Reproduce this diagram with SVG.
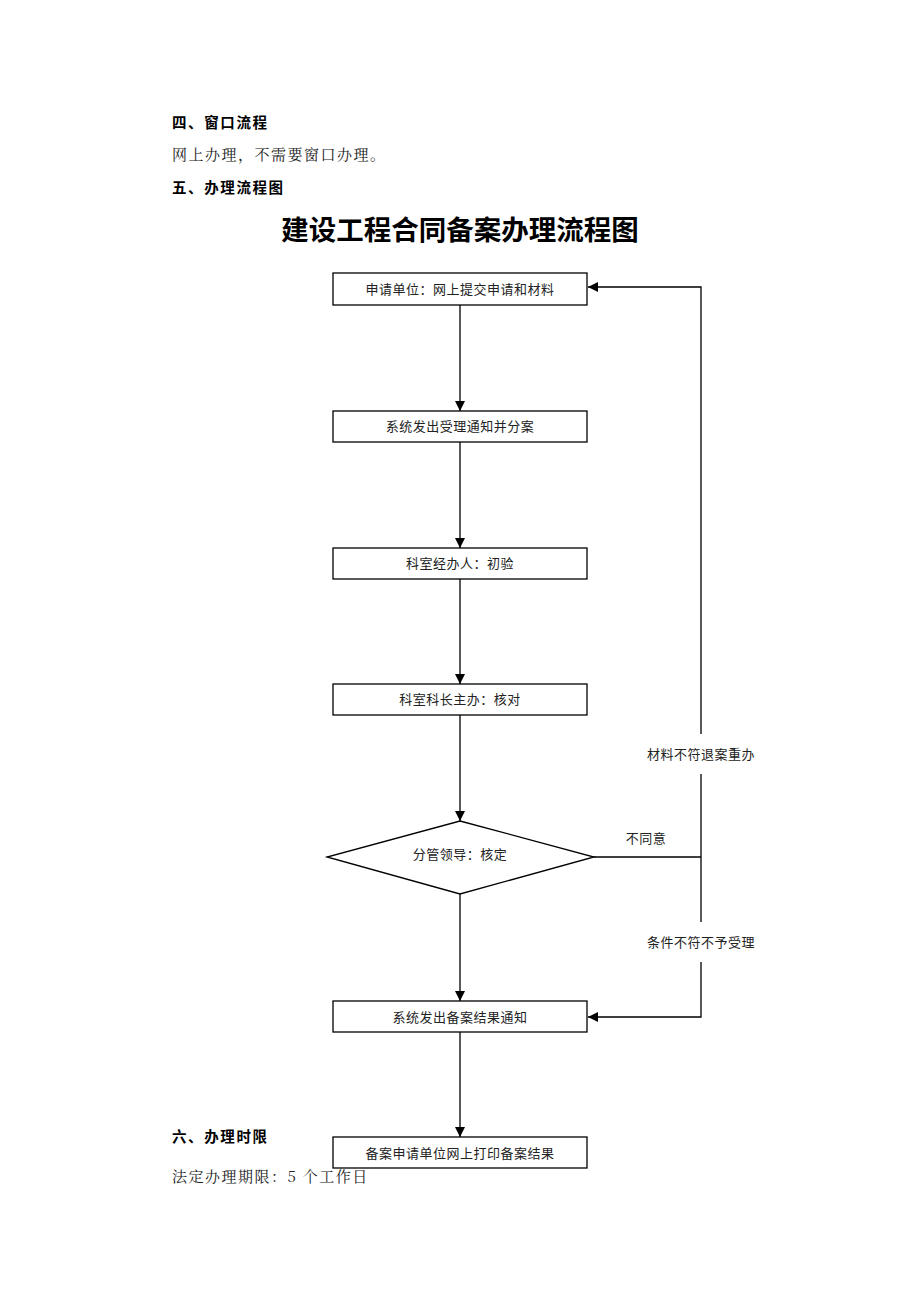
<svg xmlns="http://www.w3.org/2000/svg" width="920" height="1302" viewBox="0 0 920 1302">
<style>
.h{font-family:"Noto Sans CJK SC","Liberation Sans",sans-serif;font-size:14.5px;font-weight:bold;fill:#000;letter-spacing:1.6px}
.p{font-family:"Noto Serif CJK SC","Noto Sans CJK SC","Liberation Serif",serif;font-size:15px;fill:#222;letter-spacing:1.5px}
.t{font-family:"Noto Sans CJK SC","Liberation Sans",sans-serif;font-size:13px;fill:#222;text-anchor:middle;letter-spacing:0.5px}
.box{fill:#fff;stroke:#000;stroke-width:1.3}
.ln{fill:none;stroke:#000;stroke-width:1.3}
</style>
<defs>
<marker id="arr" viewBox="0 0 10 10" refX="10" refY="5" markerWidth="10" markerHeight="10" markerUnits="userSpaceOnUse" orient="auto">
<path d="M0,0 L10,5 L0,10 z" fill="#000"/>
</marker>
</defs>
<rect width="920" height="1302" fill="#fff"/>
<g id="text-header">
<text class="h" x="172" y="128">四、窗口流程</text>
<text class="p" x="172" y="160">网上办理，不需要窗口办理。</text>
<text class="h" x="172" y="193">五、办理流程图</text>
<text x="460" y="240" font-family="Noto Sans CJK SC, Liberation Sans, sans-serif" font-size="27.5" font-weight="bold" text-anchor="middle" fill="#000">建设工程合同备案办理流程图</text>
<text class="h" x="172" y="1142">六、办理时限</text>
<text class="p" x="172" y="1182">法定办理期限：5 个工作日</text>
</g>
<g id="connectors">
<line class="ln" x1="460" y1="305" x2="460" y2="411" marker-end="url(#arr)"/>
<line class="ln" x1="460" y1="442" x2="460" y2="548" marker-end="url(#arr)"/>
<line class="ln" x1="460" y1="579" x2="460" y2="684" marker-end="url(#arr)"/>
<line class="ln" x1="460" y1="715" x2="460" y2="821" marker-end="url(#arr)"/>
<line class="ln" x1="460" y1="894" x2="460" y2="1001" marker-end="url(#arr)"/>
<line class="ln" x1="460" y1="1032" x2="460" y2="1137" marker-end="url(#arr)"/>
<line class="ln" x1="594" y1="857" x2="701" y2="857"/>
<polyline class="ln" points="701,734 701,287 588,287" marker-end="url(#arr)"/>
<line class="ln" x1="701" y1="774" x2="701" y2="922"/>
<polyline class="ln" points="701,962 701,1017 588,1017" marker-end="url(#arr)"/>
<text class="t" x="701" y="759">材料不符退案重办</text>
<text class="t" x="646" y="843">不同意</text>
<text class="t" x="701" y="947">条件不符不予受理</text>
</g>
<g id="n1"><rect class="box" x="333" y="273" width="254" height="32"/><text class="t" x="460" y="294">申请单位：网上提交申请和材料</text></g>
<g id="n2"><rect class="box" x="333" y="411" width="254" height="31"/><text class="t" x="460" y="431">系统发出受理通知并分案</text></g>
<g id="n3"><rect class="box" x="333" y="548" width="254" height="31"/><text class="t" x="460" y="568">科室经办人：初验</text></g>
<g id="n4"><rect class="box" x="333" y="684" width="254" height="31"/><text class="t" x="460" y="704">科室科长主办：核对</text></g>
<g id="n5"><polygon class="box" points="460,821 594,857 460,894 327,857"/><text class="t" x="460" y="859">分管领导：核定</text></g>
<g id="n6"><rect class="box" x="333" y="1001" width="254" height="31"/><text class="t" x="460" y="1022">系统发出备案结果通知</text></g>
<g id="n7"><rect class="box" x="333" y="1137" width="254" height="31"/><text class="t" x="460" y="1158">备案申请单位网上打印备案结果</text></g>
</svg>
